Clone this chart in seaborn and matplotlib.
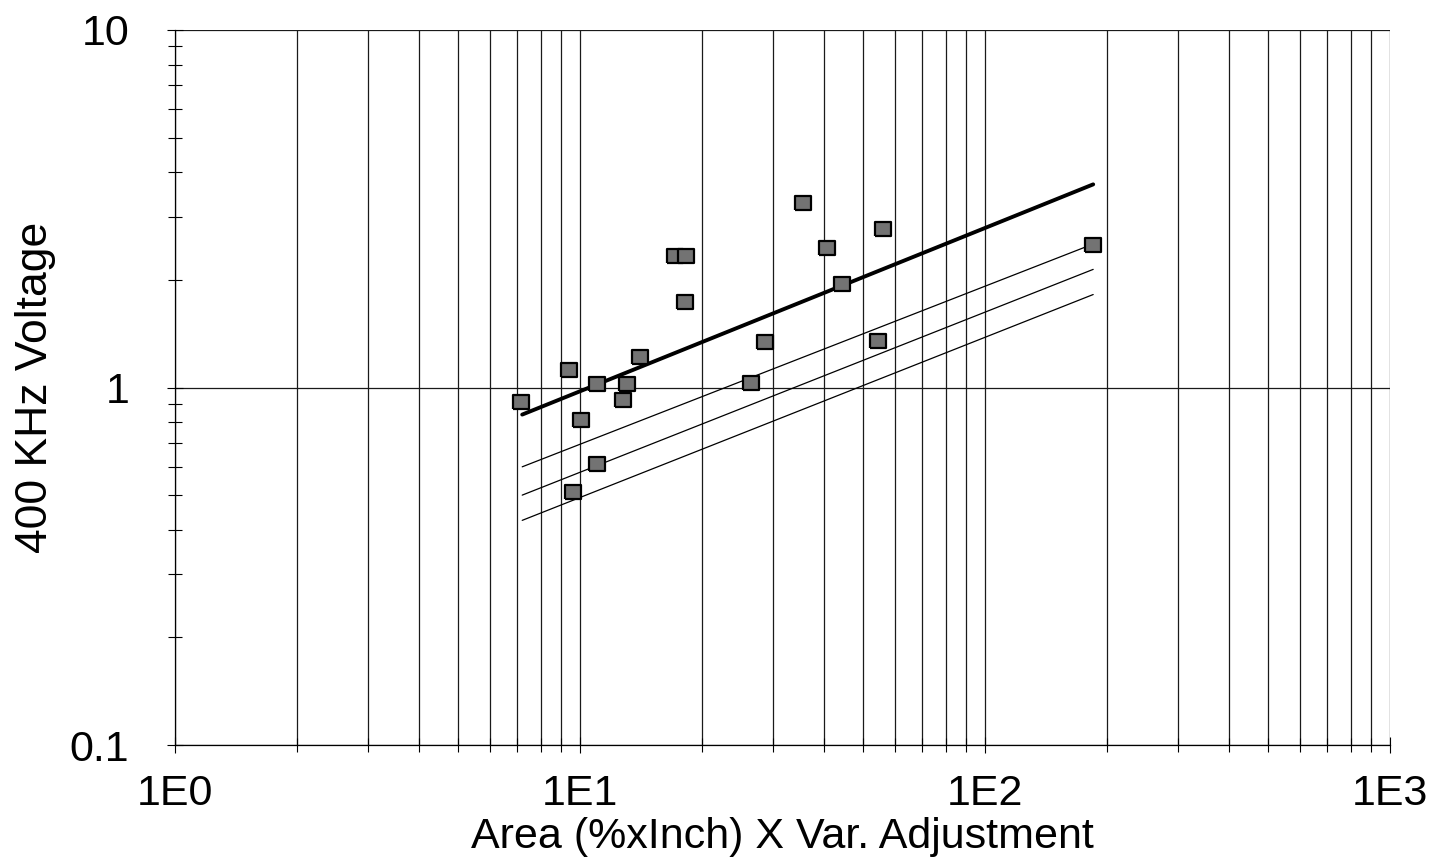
import matplotlib

matplotlib.use("Agg")
import matplotlib.pyplot as plt
import numpy as np
import pandas as pd
import seaborn as sns
from matplotlib.ticker import LogLocator, FixedFormatter, FixedLocator, NullFormatter

# measured points (area x var. adjustment, 400 kHz voltage)
area = [7.15, 9.4, 11.0, 10.06, 13.06, 12.8, 14.06, 11.0, 9.6, 17.2,
        18.3, 18.2, 26.4, 28.6, 35.5, 40.7, 44.4, 54.4, 56.0, 185.0]
voltage = [0.91, 1.12, 1.02, 0.81, 1.02, 0.92, 1.22, 0.61, 0.51, 2.34,
           2.34, 1.74, 1.03, 1.34, 3.29, 2.46, 1.95, 1.35, 2.78, 2.51]

# fitted power-law lines (end points)
fit_x = [7.2, 185.0]
fit_main = [0.84, 3.7]
fit_upper = [0.60, 2.52]
fit_mid = [0.50, 2.14]
fit_lower = [0.425, 1.82]

x_tick_vals = [1, 10, 100, 1000]
x_tick_labels = ["1E0", "1E1", "1E2", "1E3"]
y_tick_vals = [0.1, 1, 10]
y_tick_labels = ["0.1", "1", "10"]

sns.set_style("ticks")
plt.rcParams["font.family"] = ["Liberation Sans", "DejaVu Sans"]
plt.rcParams["text.color"] = "black"
plt.rcParams["axes.labelcolor"] = "black"
plt.rcParams["xtick.color"] = "black"
plt.rcParams["ytick.color"] = "black"

fig = plt.figure(figsize=(14.38, 8.67), dpi=100)
ax = fig.add_axes([0.1217, 0.1407, 0.8449, 0.8247])
ax.set_xscale("log")
ax.set_yscale("log")

points = pd.DataFrame({"area": area, "voltage": voltage})
fits = pd.DataFrame({
    "x": fit_x * 4,
    "y": fit_main + fit_upper + fit_mid + fit_lower,
    "line": ["main"] * 2 + ["upper"] * 2 + ["mid"] * 2 + ["lower"] * 2,
})

for name, lw in [("upper", 0.9), ("mid", 0.9), ("lower", 0.9), ("main", 2.8)]:
    sns.lineplot(data=fits[fits["line"] == name], x="x", y="y", ax=ax,
                 color="black", linewidth=lw, estimator=None, sort=False,
                 zorder=3)

# slightly wide rectangle marker, like the original plot symbol
rect = [(-1.0, -0.8), (1.0, -0.8), (1.0, 0.8), (-1.0, 0.8), (-1.0, -0.8)]
sns.scatterplot(data=points, x="area", y="voltage", ax=ax, marker=rect,
                s=140, color="#737373", edgecolor="black", linewidth=1.6,
                zorder=4)

ax.set_xlim(1, 1000)
ax.set_ylim(0.1, 10)

# grid: every minor decade line on x, only decades on y
ax.xaxis.set_major_locator(FixedLocator(x_tick_vals))
ax.xaxis.set_major_formatter(FixedFormatter(x_tick_labels))
ax.xaxis.set_minor_locator(LogLocator(base=10, subs=np.arange(2, 10)))
ax.xaxis.set_minor_formatter(NullFormatter())
ax.yaxis.set_major_locator(FixedLocator(y_tick_vals))
ax.yaxis.set_major_formatter(FixedFormatter(y_tick_labels))
ax.yaxis.set_minor_locator(LogLocator(base=10, subs=np.arange(2, 10)))
ax.yaxis.set_minor_formatter(NullFormatter())

ax.grid(True, which="major", axis="both", color="#1a1a1a", linewidth=0.9)
ax.grid(True, which="minor", axis="x", color="#1a1a1a", linewidth=0.9)

ax.tick_params(axis="both", which="major", direction="inout", length=12,
               width=0.8, labelsize=31, color="black")
ax.tick_params(axis="both", which="minor", direction="inout", length=10,
               width=0.8, color="black")
ax.tick_params(axis="x", which="major", pad=15)
ax.tick_params(axis="y", which="major", pad=27)

for side in ["top", "right"]:
    ax.spines[side].set_visible(False)
for side in ["left", "bottom"]:
    ax.spines[side].set_linewidth(0.9)
    ax.spines[side].set_color("black")

ax.set_xlabel("Area (%xInch) X Var. Adjustment", fontsize=31, labelpad=2)
ax.set_ylabel("400 KHz Voltage", fontsize=32, labelpad=10)

fig.savefig("out.png", dpi=100)
